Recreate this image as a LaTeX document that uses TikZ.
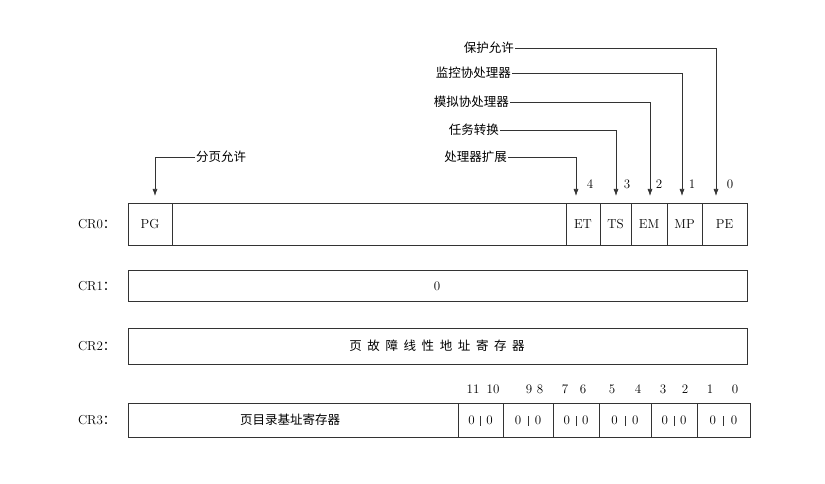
\documentclass[tikz,border=0pt]{standalone}
\usepackage{fontspec}
\usetikzlibrary{arrows.meta}
\newfontfamily\cjk{Noto Sans CJK SC}
\begin{document}
\begin{tikzpicture}[x=1pt,y=-1pt,
  reg/.style={draw=black!80,line width=0.7pt},
  lab/.style={font=\cjk\fontsize{12.5}{14}\selectfont,inner sep=1pt},
  txt/.style={font=\fontsize{13}{15}\selectfont,inner sep=1pt},
  arr/.style={draw=black!80,line width=0.7pt,-{Latex[length=7pt,width=5pt]}}]
\useasboundingbox (0,0) rectangle (825,484);
% CR0
\node[txt] (l0) at (97,224) {CR0{\cjk ：}};
\draw[reg] (128,203) rectangle (747,245);
\foreach \x in {172,566,600,631,667,702} \draw[reg] (\x,203) -- (\x,245);
\node[txt] (pg) at (150,224) {PG};
\node[txt] (et) at (583,224) {ET};
\node[txt] (ts) at (615.5,224) {TS};
\node[txt] (em) at (649,224) {EM};
\node[txt] (mp) at (684.5,224) {MP};
\node[txt] (pe) at (724.5,224) {PE};
% labels
\node[lab,anchor=east] (a0) at (515,48) {保护允许};
\node[lab,anchor=east] (a1) at (512,73) {监控协处理器};
\node[lab,anchor=east] (a2) at (510,102) {模拟协处理器};
\node[lab,anchor=east] (a3) at (500,130) {任务转换};
\node[lab,anchor=east] (a4) at (508,157) {处理器扩展};
\node[lab,anchor=west] (ap) at (195,157) {分页允许};
\coordinate (t0) at (716,196); \coordinate (t1) at (682,196);
\coordinate (t2) at (650,196); \coordinate (t3) at (616,196);
\coordinate (t4) at (576,196); \coordinate (tp) at (155,196);
\draw[arr] (a0.east) -| (t0);
\draw[arr] (a1.east) -| (t1);
\draw[arr] (a2.east) -| (t2);
\draw[arr] (a3.east) -| (t3);
\draw[arr] (a4.east) -| (t4);
\draw[arr] (ap.west) -| (tp);
\node[txt] (n4) at (590,184) {4};
\node[txt] (n3) at (627,184) {3};
\node[txt] (n2) at (659,184) {2};
\node[txt] (n1) at (692,184) {1};
\node[txt] (n0) at (730,184) {0};
% CR1
\node[txt] (l1) at (97,286) {CR1{\cjk ：}};
\draw[reg] (128,270) rectangle (747,301);
\node[txt] (z1) at (437,286) {0};
% CR2
\node[txt] (l2) at (97,346) {CR2{\cjk ：}};
\draw[reg] (128,328) rectangle (747,364);
\node[lab] (p2) at (437,346) {页\ \ 故\ \ 障\ \ 线\ \ 性\ \ 地\ \ 址\ \ 寄\ \ 存\ \ 器};
% CR3
\node[txt] (l3) at (97,420) {CR3{\cjk ：}};
\draw[reg] (128,403) rectangle (750,437);
\foreach \x in {458,503,553,599,651,697} \draw[reg] (\x,403) -- (\x,437);
\node[lab] (p3) at (290,420) {页目录基址寄存器};
\foreach \a/\b in {458/503,503/553,553/599,599/651,651/697,697/750}{
  \node[txt] at ({\a+(\b-\a)*0.3},420) {0};
  \node[txt] at ({\a+(\b-\a)*0.7},420) {0};
  \draw[black!80,line width=0.5pt] ({(\a+\b)/2},416) -- ({(\a+\b)/2},426);
}
\foreach \n/\x in {11/473,10/493,9/529,8/540,7/565,6/583,5/612,4/638,3/663,2/685,1/710,0/735}
  \node[txt] at (\x,389) {\n};
\end{tikzpicture}
\end{document}
